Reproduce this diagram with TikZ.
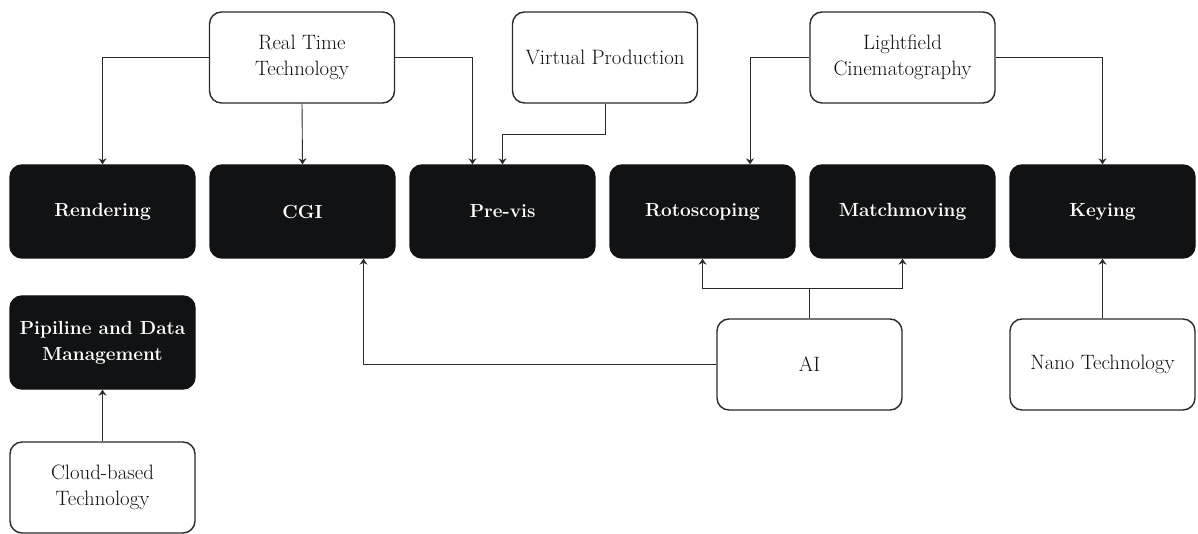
\documentclass[tikz,border=0pt]{standalone}
\usetikzlibrary{arrows.meta}
\definecolor{boxdark}{HTML}{111213}
\definecolor{inkline}{HTML}{2A2A2A}
\definecolor{txt}{HTML}{111111}
\tikzset{
  base/.style={rectangle, rounded corners=12pt, minimum width=185pt, align=center,
    line width=1.4pt, inner sep=2pt, font=\fontsize{20.8}{26}\selectfont},
  topic/.style={base, draw=inkline, fill=white, text=txt, minimum height=91pt},
  area/.style={base, draw=boxdark, fill=boxdark, text=white, minimum height=93pt,
    font=\fontsize{19}{26}\selectfont\bfseries},
  arr/.style={draw=inkline, line width=0.9pt, -{Stealth[length=6pt,width=8pt,inset=2pt]}},
  link/.style={draw=inkline, line width=0.9pt}
}
\begin{document}
\begin{tikzpicture}[x=1pt,y=-1pt]
\useasboundingbox (0,0) rectangle (1198,534);

% technology boxes
\node[topic] (rt)    at (302,57.5)    {Real Time\\Technology};
\node[topic] (vp)    at (605,57.5)    {Virtual Production};
\node[topic] (lf)    at (902.5,57.5)  {Lightfield\\Cinematography};
\node[topic] (ai)    at (809.5,364.5) {AI};
\node[topic] (nano)  at (1102.5,364.5){Nano Technology};
\node[topic] (cloud) at (102.5,487.5) {Cloud-based\\Technology};

% production areas
\node[area] (rend)  at (102.5,211.5) {Rendering};
\node[area] (cgi)   at (302.5,211.5) {CGI};
\node[area] (prev)  at (502.5,211.5) {Pre-vis};
\node[area] (roto)  at (702.5,211.5) {Rotoscoping};
\node[area] (match) at (902.5,211.5) {Matchmoving};
\node[area] (key)   at (1102.5,211.5){Keying};
\node[area] (pipe)  at (102.5,342.5) {Pipiline and Data\\Management};

% connectors
\draw[arr] (rt.west) -| (rend.north);
\draw[arr] (rt.south) -- (cgi.north);
\draw[arr] (rt.east) -| ([xshift=-30pt]prev.north);
\draw[arr] (vp.south) |- ([yshift=30pt]prev.north) -- (prev.north);
\draw[arr] (lf.west) -| ([xshift=47.5pt]roto.north);
\draw[arr] (lf.east) -| (key.north);

\coordinate (aj) at (ai.north |- 0,288);
\draw[link] (ai.north) -- (aj);
\draw[arr] (aj) -| (roto.south);
\draw[arr] (aj) -| (match.south);
\draw[arr] (ai.west) -| ([xshift=61pt]cgi.south);
\draw[arr] (nano.north) -- (key.south);
\draw[arr] (cloud.north) -- (pipe.south);
\end{tikzpicture}
\end{document}
